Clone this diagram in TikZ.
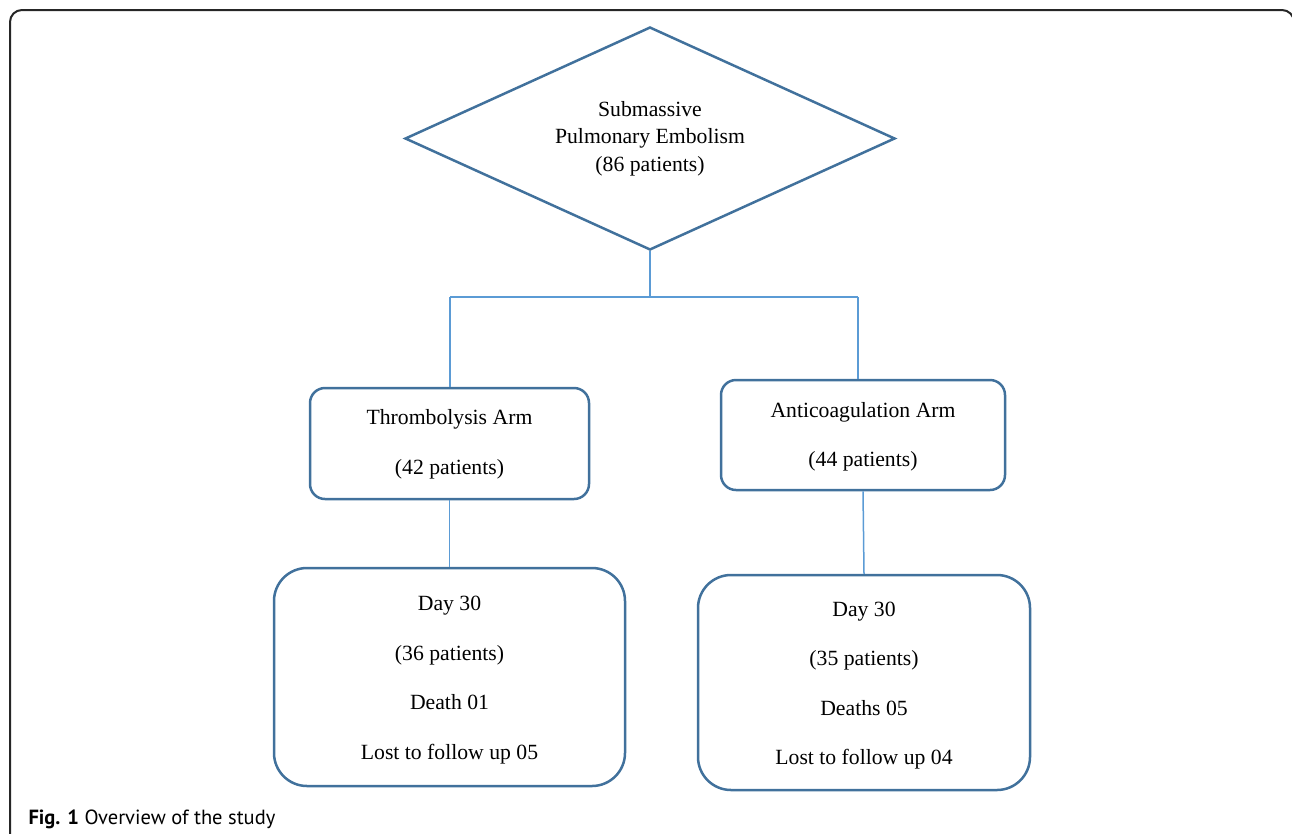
\documentclass[tikz,border=0pt]{standalone}
\usepackage{fontspec}
\setmainfont{Liberation Serif}
\newfontfamily\capfont{PT Sans}
\usetikzlibrary{shapes.geometric}

\definecolor{boxblue}{HTML}{41719C}
\definecolor{lineblue}{HTML}{5B9BD5}
\newcommand{\topgap}[1]{\rule{0pt}{#1}}

\tikzset{
  every node/.style={font=\fontsize{21.7}{27.5}\selectfont, align=center},
  decision/.style={diamond, aspect=2.2, draw=boxblue, line width=2.5pt, inner sep=0pt,
    minimum width=490pt, minimum height=223pt},
  armbox/.style={rectangle, draw=boxblue, line width=2.5pt, rounded corners=15pt},
  daybox/.style={rectangle, draw=boxblue, line width=2.5pt, rounded corners=33pt},
  link/.style={draw=lineblue, line width=1.5pt}
}

\begin{document}
\begin{tikzpicture}[x=1pt,y=-1pt]
    \useasboundingbox (0,0) rectangle (1292,833);
    \draw[line width=2pt, black!85, rounded corners=12pt] (10,10) rectangle (1294,880);

    \node[decision] (pe) at (650,138.5) {Submassive\\Pulmonary Embolism\\(86 patients)};

    \node[armbox, minimum width=279pt, minimum height=111pt] (thr) at (449.5,443.5)
        {\topgap{17pt}Thrombolysis Arm\\[22pt](42 patients)};
    \node[armbox, minimum width=284pt, minimum height=110pt] (ac) at (863,435)
        {\topgap{18.5pt}Anticoagulation Arm\\[22pt](44 patients)};

    \node[daybox, minimum width=351pt, minimum height=218pt] (thrday) at (449.5,677)
        {\topgap{20.5pt}Day 30\\[22pt](36 patients)\\[22pt]Death 01\\[22pt]Lost to follow up 05};
    \node[daybox, minimum width=332pt, minimum height=215pt] (acday) at (864,682.5)
        {\topgap{20.5pt}Day 30\\[22pt](35 patients)\\[22pt]Deaths 05\\[22pt]Lost to follow up 04};

    \coordinate (split) at (650,297);
    \coordinate (jl) at (450,297);
    \coordinate (jr) at (858,297);
    \draw[link] (pe.south) -- (split);
    \draw[link] (jl) -- (jr);
    \draw[link] (jl) -- (jl |- thr.north);
    \draw[link] (jr) -- (jr |- ac.north);
    \draw[link] (thr.south) -- (thrday.north);
    \draw[link] (ac.south) -- (acday.north);

    \node[anchor=base west, font=\capfont\fontsize{20.5}{24}\selectfont] (cap) at (25,824)
        {\textbf{Fig. 1} Overview of the study};
  \end{tikzpicture}
\end{document}
